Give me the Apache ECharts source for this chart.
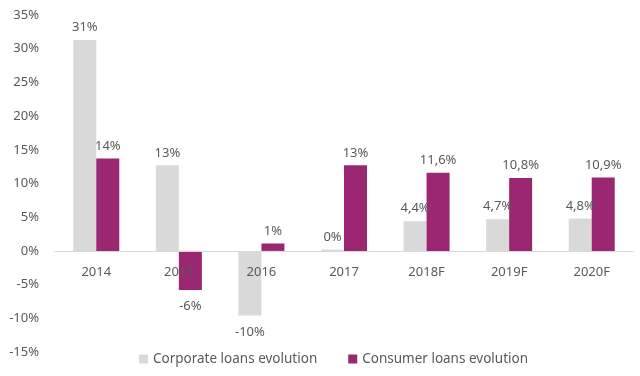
<!DOCTYPE html>
<html>
<head>
<meta charset="utf-8">
<script src="https://cdn.jsdelivr.net/npm/echarts@6/dist/echarts.min.js"></script>
<style>
  html, body { margin: 0; padding: 0; background: #fff; }
  #chart { width: 640px; height: 376px; }
</style>
</head>
<body>
<div id="chart"></div>
<script>
var years = ['2014', '2015', '2016', '2017', '2018F', '2019F', '2020F'];
var corporate = [31.3, 12.7, -9.6, 0.2, 4.4, 4.7, 4.8];
var consumer = [13.7, -5.8, 1.1, 12.7, 11.6, 10.8, 10.9];
var corporateLabels = ['31%', '13%', '-10%', '0%', '4,4%', '4,7%', '4,8%'];
var consumerLabels = ['14%', '-6%', '1%', '13%', '11,6%', '10,8%', '10,9%'];

var textColor = '#595959';
var fontFamily = 'Noto Sans, Liberation Sans, sans-serif';

// negative bars get their label underneath
function makeData(values, labels) {
    var out = [];
    for (var i = 0; i < values.length; i++) {
        out.push({
            value: values[i],
            label: {
                position: values[i] < 0 ? 'bottom' : 'top',
                distance: values[i] < 0 ? 10 : 6,
                formatter: labels[i]
            }
        });
    }
    return out;
}

var chart = echarts.init(document.getElementById('chart'));

var option = {
    animation: false,
    textStyle: { fontFamily: fontFamily },
    grid: { left: 55, right: 7, top: 15, bottom: 24 },
    legend: {
        bottom: 5,
        left: 134,
        itemWidth: 9,
        itemHeight: 9,
        itemGap: 31,
        icon: 'rect',
        textStyle: { color: textColor, fontSize: 13.5, fontFamily: fontFamily }
    },
    xAxis: {
        type: 'category',
        data: years,
        z: 5,
        // category axis sits on the zero line (grid bottom is at -15%)
        offset: -101,
        axisLine: { onZero: false, lineStyle: { color: '#d9d9d9', width: 1 } },
        axisTick: { show: false },
        axisLabel: { color: textColor, fontSize: 13, margin: 15 }
    },
    yAxis: {
        type: 'value',
        min: -15,
        max: 35,
        interval: 5,
        splitLine: { show: false },
        axisLine: { show: false },
        axisTick: { show: false },
        axisLabel: { color: textColor, fontSize: 13, margin: 16, formatter: '{value}%' }
    },
    series: [{
        name: 'Corporate loans evolution',
        type: 'bar',
        data: makeData(corporate, corporateLabels),
        barWidth: 23,
        barGap: '0%',
        itemStyle: { color: '#d9d9d9' },
        label: { show: true, color: textColor, fontSize: 13 }
    }, {
        name: 'Consumer loans evolution',
        type: 'bar',
        data: makeData(consumer, consumerLabels),
        barWidth: 23,
        barGap: '0%',
        itemStyle: { color: '#9b2671' },
        label: { show: true, color: textColor, fontSize: 13 }
    }]
};

chart.setOption(option);
</script>
</body>
</html>
